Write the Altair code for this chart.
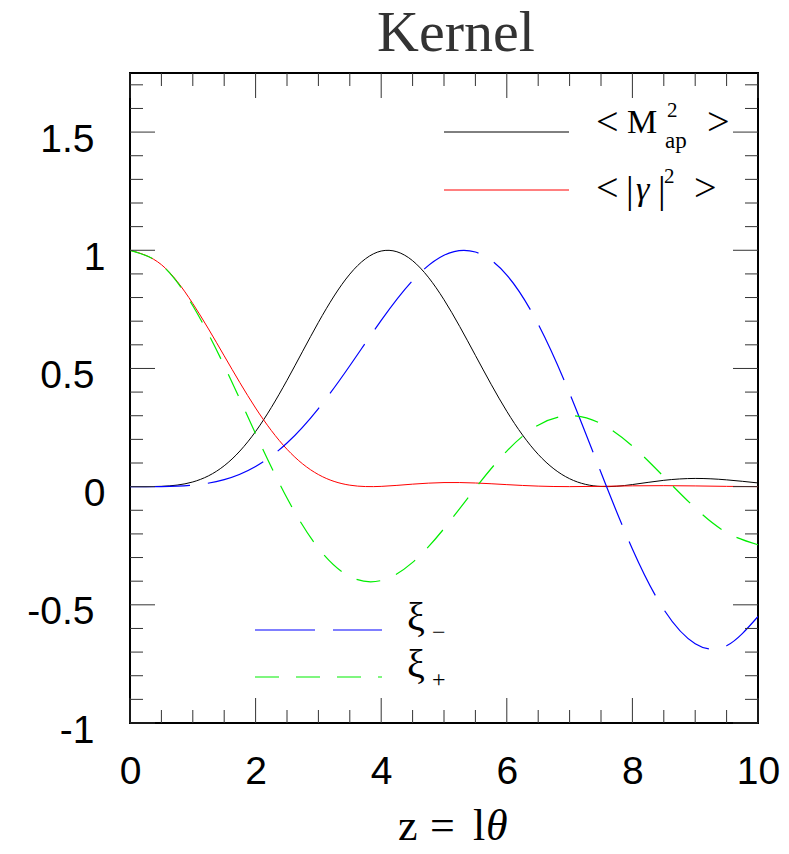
import altair as alt
import pandas as pd

# Sample points of the four normalised kernels, z = 0 ... 10
z = [0.0, 0.5, 1.0, 1.5, 2.0, 2.5, 3.0, 3.5, 4.0, 4.5, 5.0,
     5.5, 6.0, 6.5, 7.0, 7.5, 8.0, 8.5, 9.0, 9.5, 10.0]
map2 = [0.0, 0.0013, 0.0198, 0.0883, 0.2332, 0.4500, 0.6949, 0.8990, 0.9968, 0.9559, 0.7908,
        0.5554, 0.3187, 0.1366, 0.0335, 0.0006, 0.0088, 0.0267, 0.0347, 0.0287, 0.0156]
gamma2 = [1.0, 0.9391, 0.7746, 0.5534, 0.3326, 0.1581, 0.0511, 0.0062, 0.0011, 0.0105, 0.0172,
          0.0154, 0.0085, 0.0022, 0.0000, 0.0013, 0.0034, 0.0041, 0.0030, 0.0012, 0.0001]
xi_plus = [1.0, 0.9385, 0.7652, 0.5118, 0.2239, -0.0484, -0.2601, -0.3801, -0.3971, -0.3205, -0.1776,
           -0.0068, 0.1506, 0.2601, 0.3001, 0.2663, 0.1717, 0.0419, -0.0903, -0.1939, -0.2459]
xi_minus = [0.0, 0.0004, 0.0062, 0.0294, 0.0851, 0.1846, 0.3304, 0.5115, 0.7035, 0.8719, 0.9790,
            0.9927, 0.8950, 0.6877, 0.3949, 0.0596, -0.2636, -0.5197, -0.6643, -0.6735, -0.5495]

# Tick positions
x_major = [0, 2, 4, 6, 8, 10]
x_minor = [v / 2 for v in range(0, 21) if v % 4 != 0]
y_major = [-1, -0.5, 0, 0.5, 1, 1.5]
y_minor = [round(v / 10, 1) for v in range(-10, 18) if v % 5 != 0]

W, H = 628, 650
one = pd.DataFrame({"k": [0]})

xs = alt.Scale(domain=[0, 10], nice=False, zero=False)
ys = alt.Scale(domain=[-1, 1.75], nice=False, zero=False)

# the same axis objects are given to every layer so that they merge cleanly
x_axis = alt.Axis(
    values=x_major, title=None, labelExpr="toString(datum.value)",
    domain=False, ticks=False, grid=False,
    labelFont="Liberation Sans", labelFontSize=39, labelColor="black",
    labelPadding=29, labelBaseline="top", labelFlush=False,
)
y_axis = alt.Axis(
    values=y_major, title=None, labelExpr="toString(datum.value)",
    domain=False, ticks=False, grid=False,
    labelFont="Liberation Sans", labelFontSize=39, labelColor="black",
    labelPadding=36, labelBaseline="middle", labelOffset=7,
    labelAlign={"condition": {"test": "datum.value == 0 || datum.value == 1", "value": "center"},
                "value": "right"},
    labelFlush=False,
)


def X(field):
    return alt.X(field, type="quantitative", scale=xs, axis=x_axis)


def Y(field):
    return alt.Y(field, type="quantitative", scale=ys, axis=y_axis)


def curve(vals, color, dash=None, width=1.0):
    df = pd.DataFrame({"z": z, "v": vals})
    kw = dict(color=color, strokeWidth=width, interpolate="natural", clip=True)
    if dash:
        kw["strokeDash"] = dash
    return alt.Chart(df).mark_line(**kw).encode(x=X("z"), y=Y("v"))


# inward ticks on all four sides
def xticks(vals, length):
    df = pd.DataFrame({"v": vals})
    base = alt.Chart(df).mark_rule(color="#333", strokeWidth=1)
    return [
        base.encode(x=X("v"), y=alt.value(H), y2=alt.value(H - length)),
        base.encode(x=X("v"), y=alt.value(0), y2=alt.value(length)),
    ]


def yticks(vals, length):
    df = pd.DataFrame({"v": vals})
    base = alt.Chart(df).mark_rule(color="#333", strokeWidth=1)
    return [
        base.encode(y=Y("v"), x=alt.value(0), x2=alt.value(length)),
        base.encode(y=Y("v"), x=alt.value(W), x2=alt.value(W - length)),
    ]


def seg(x1, x2, y, color, dash=None, width=1.0):
    kw = dict(color=color, strokeWidth=width)
    if dash:
        kw["strokeDash"] = dash
    return alt.Chart(one).mark_rule(**kw).encode(
        x=alt.value(x1), x2=alt.value(x2), y=alt.value(y))


def txt(s, x, y, size, align="left", baseline="alphabetic", italic=False,
        font="Liberation Serif", color="black"):
    return alt.Chart(one).mark_text(
        text=s, fontSize=size, font=font, align=align, baseline=baseline,
        fontStyle="italic" if italic else "normal", color=color,
    ).encode(x=alt.value(x), y=alt.value(y))


layers = [
    curve(map2, "black"),
    curve(gamma2, "#ff0000"),
    curve(xi_minus, "#0000ff", dash=[60, 18], width=1.2),
    curve(xi_plus, "#00ee00", dash=[24, 17], width=1.2),
]

layers += xticks(x_major, 25) + xticks(x_minor, 13)
layers += yticks(y_major, 25) + yticks(y_minor, 13)

# legend, upper right
layers += [
    seg(314, 439, 59, "black"),
    seg(314, 439, 117, "#ff0000"),
    txt("<", 466, 62, 40),
    txt("M", 497, 60, 34),
    txt("2", 537, 44, 21),
    txt("ap", 535, 75, 23),
    txt(">", 577, 62, 40),
    txt("<", 466, 128, 40),
    txt("|", 496, 130, 38),
    txt("γ", 506, 127, 34, italic=True),
    txt("|", 528, 130, 38),
    txt("2", 534, 110, 21),
    txt(">", 564, 128, 40),
]

# legend, lower left
layers += [
    seg(125, 252, 557, "#0000ff", dash=[60, 18], width=1.2),
    seg(125, 252, 604, "#00ee00", dash=[24, 17], width=1.2),
    txt("ξ", 277, 557, 40),
    txt("−", 302, 567, 24),
    txt("ξ", 277, 604, 40),
    txt("+", 302, 614, 24),
]

# title and x-axis caption
layers += [
    txt("Kernel", 326, -22, 58, align="center", color="#333"),
    txt("z", 268, 767, 44),
    txt("=", 300, 767, 44),
    txt("l", 343, 767, 44),
    txt("θ", 356, 767, 44, italic=True),
]

chart = alt.layer(*layers).properties(
    width=W, height=H,
    autosize=alt.AutoSizeParams(type="none"),
    padding={"left": 130, "top": 73, "right": 31, "bottom": 131},
).configure_view(stroke="black", strokeWidth=2)

chart.save("out.html", embed_options={"renderer": "svg", "actions": False})
